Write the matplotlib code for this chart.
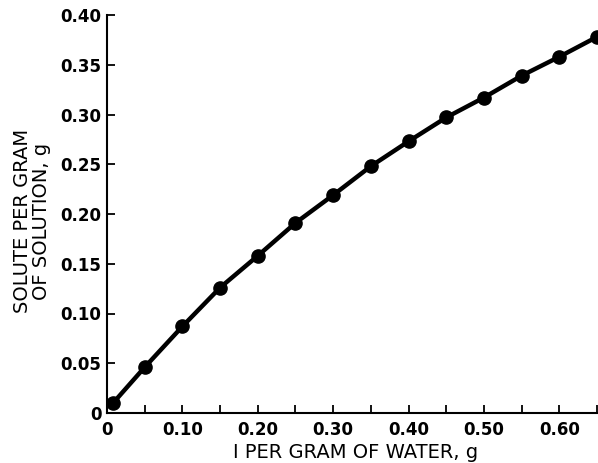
import matplotlib
matplotlib.use("Agg")
import matplotlib.pyplot as plt

x_vals = [0.008, 0.05, 0.10, 0.15, 0.20, 0.25, 0.30, 0.35, 0.40, 0.45, 0.50, 0.55, 0.60, 0.65]
y_vals = [0.010, 0.046, 0.087, 0.126, 0.158, 0.191, 0.219, 0.248, 0.273, 0.297, 0.317, 0.339, 0.358, 0.378]
x_ticks = [0, 0.05, 0.10, 0.15, 0.20, 0.25, 0.30, 0.35, 0.40, 0.45, 0.50, 0.55, 0.60, 0.65]
x_ticklabels = ["0", "", "0.10", "", "0.20", "", "0.30", "", "0.40", "", "0.50", "", "0.60", ""]
y_ticks = [0, 0.05, 0.10, 0.15, 0.20, 0.25, 0.30, 0.35, 0.40]
y_ticklabels = ["0", "0.05", "0.10", "0.15", "0.20", "0.25", "0.30", "0.35", "0.40"]

plt.rcParams['font.family'] = ['DejaVu Sans']

W, H = 598, 463
fig = plt.figure(figsize=(W / 100, H / 100), dpi=100)
ax = fig.add_axes([107 / W, 1 - 413 / H, 490 / W, 398 / H])

ax.plot(x_vals, y_vals, color='black', lw=3.2, marker='o', markersize=9.5,
        clip_on=False, zorder=3, solid_capstyle='round')

ax.set_xlim(0, 0.65)
ax.set_ylim(0, 0.40)
ax.set_xticks(x_ticks)
ax.set_xticklabels(x_ticklabels, fontsize=12, fontweight='bold')
ax.set_yticks(y_ticks)
ax.set_yticklabels(y_ticklabels, fontsize=12, fontweight='bold')
ax.tick_params(direction='in', length=6, width=1.3)
ax.tick_params(axis='x', pad=6)
ax.tick_params(axis='y', pad=4)
for s in ['top', 'right']:
    ax.spines[s].set_visible(False)
for s in ['left', 'bottom']:
    ax.spines[s].set_linewidth(1.5)

fig.text(356 / W, 1 - 453 / H, "I PER GRAM OF WATER, g", fontsize=14,
         ha='center', va='center')
fig.text(32 / W, 1 - 221 / H, "SOLUTE PER GRAM\nOF SOLUTION, g", fontsize=14,
         ha='center', va='center', rotation=90, multialignment='center',
         linespacing=1.0)

fig.savefig("out.png", dpi=100)
